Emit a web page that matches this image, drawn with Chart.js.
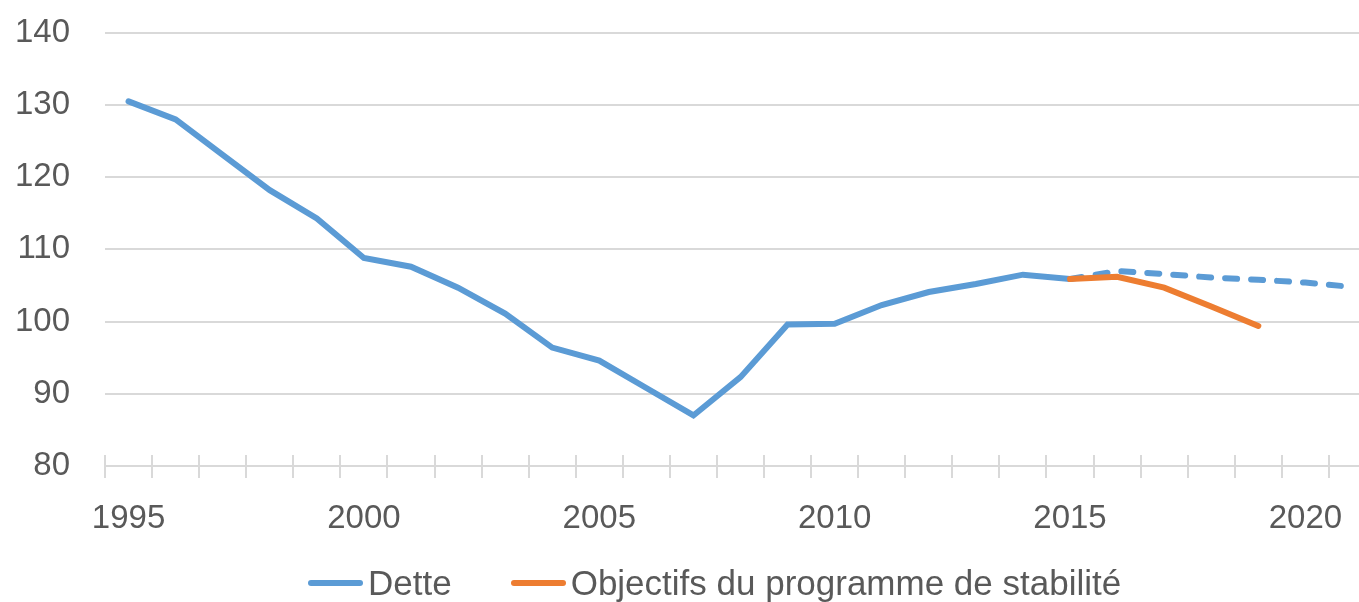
<!DOCTYPE html>
<html>
<head>
<meta charset="utf-8">
<script src="https://cdn.jsdelivr.net/npm/chart.js@4.4.1/dist/chart.umd.min.js"></script>
<style>
  html, body { margin: 0; padding: 0; background: #fff; overflow: hidden; }
  #wrap { position: relative; width: 1359px; height: 602px; overflow: hidden; }
  #chart { position: absolute; left: 0; top: -22px; }
  #legend {
    position: absolute; left: 308px; top: 563px;
    display: flex; align-items: center;
    font-family: 'Liberation Sans', Arial, sans-serif; font-size: 35px;
    line-height: 40px; color: #595959; white-space: nowrap;
  }
  .item { display: flex; align-items: center; margin-right: 59px; }
  .swatch { width: 55px; height: 6px; border-radius: 3px; margin-right: 5px; }
</style>
</head>
<body>
<div id="wrap">
  <canvas id="chart" width="1380" height="624"></canvas>
  <div id="legend"></div>
</div>
<script>
// années et séries (dette publique, % du PIB)
const years = [1995, 1996, 1997, 1998, 1999, 2000, 2001, 2002, 2003, 2004,
  2005, 2006, 2007, 2008, 2009, 2010, 2011, 2012, 2013, 2014,
  2015, 2016, 2017, 2018, 2019, 2020, 2021];

const dette = [130.5, 128.0, 123.1, 118.2, 114.3, 108.8, 107.6, 104.7, 101.1, 96.4,
  94.6, 90.8, 87.0, 92.3, 99.6, 99.7, 102.3, 104.1, 105.2, 106.5,
  105.9, null, null, null, null, null, null];

const detteProjection = [null, null, null, null, null, null, null, null, null, null,
  null, null, null, null, null, null, null, null, null, null,
  105.9, 107.0, 106.6, 106.1, 105.8, 105.4, 104.8];

const objectifs = [null, null, null, null, null, null, null, null, null, null,
  null, null, null, null, null, null, null, null, null, null,
  105.9, 106.2, 104.7, 102.1, 99.4, null, null];

const yTicks = [80, 90, 100, 110, 120, 130, 140];

const BLUE = '#5B9BD5';
const ORANGE = '#ED7D31';
const GRID = '#D9D9D9';
const TEXT = '#595959';

// petits traits au-dessus de l'axe des abscisses (ticks croisés)
const crossTicks = {
  id: 'crossTicks',
  afterDraw(chart) {
    const x = chart.scales.x;
    const ctx = chart.ctx;
    ctx.save();
    ctx.strokeStyle = GRID;
    ctx.lineWidth = 2;
    ctx.beginPath();
    for (let i = 0; i <= years.length; i++) {
      const px = Math.round((x.getPixelForValue(i - 1) + x.getPixelForValue(i)) / 2);
      ctx.moveTo(px, x.top - 11);
      ctx.lineTo(px, x.top);
    }
    ctx.stroke();
    ctx.restore();
  }
};

const chart = new Chart(document.getElementById('chart'), {
  type: 'line',
  data: {
    labels: years,
    datasets: [
      {
        label: 'Objectifs du programme de stabilité',
        data: objectifs,
        borderColor: ORANGE,
        backgroundColor: ORANGE,
        borderWidth: 6,
        borderCapStyle: 'round',
        borderJoinStyle: 'miter',
        order: 0
      },
      {
        label: 'Dette',
        data: dette,
        borderColor: BLUE,
        backgroundColor: BLUE,
        borderWidth: 6,
        borderCapStyle: 'round',
        borderJoinStyle: 'miter',
        order: 1
      },
      {
        label: 'Dette (projection)',
        data: detteProjection,
        borderColor: BLUE,
        backgroundColor: BLUE,
        borderWidth: 6,
        borderDash: [12, 14],
        borderCapStyle: 'round',
        borderJoinStyle: 'miter',
        order: 2
      }
    ]
  },
  options: {
    responsive: false,
    animation: false,
    devicePixelRatio: 1,
    elements: { point: { radius: 0 }, line: { tension: 0 } },
    layout: { padding: { top: 9, right: 4, left: 0, bottom: 0 } },
    plugins: {
      legend: { display: false },
      tooltip: { enabled: false }
    },
    scales: {
      x: {
        offset: true,
        grid: {
          offset: true,
          drawOnChartArea: false,
          color: GRID,
          lineWidth: 2,
          tickLength: 12
        },
        border: { color: GRID, width: 2 },
        ticks: {
          autoSkip: false,
          maxRotation: 0,
          padding: 21,
          color: TEXT,
          font: { family: "'Liberation Sans', Arial, sans-serif", size: 33 },
          callback: (v, i) => (years[i] % 5 === 0 ? String(years[i]) : '')
        },
        afterFit: (s) => { s.height = 136; }
      },
      y: {
        min: yTicks[0],
        max: yTicks[yTicks.length - 1],
        afterBuildTicks: (s) => { s.ticks = yTicks.map(v => ({ value: v })); },
        grid: { color: GRID, lineWidth: 2, drawTicks: false },
        border: { display: false },
        ticks: {
          padding: 35,
          color: TEXT,
          font: { family: "'Liberation Sans', Arial, sans-serif", size: 33 }
        },
        afterFit: (s) => { s.width = 105; }
      }
    }
  },
  plugins: [crossTicks]
});

// légende HTML (sans la projection en pointillés)
const legend = document.getElementById('legend');
[chart.data.datasets[1], chart.data.datasets[0]].forEach(ds => {
  const item = document.createElement('div');
  item.className = 'item';
  const sw = document.createElement('span');
  sw.className = 'swatch';
  sw.style.background = ds.borderColor;
  const txt = document.createElement('span');
  txt.textContent = ds.label;
  item.appendChild(sw);
  item.appendChild(txt);
  legend.appendChild(item);
});
</script>
</body>
</html>
